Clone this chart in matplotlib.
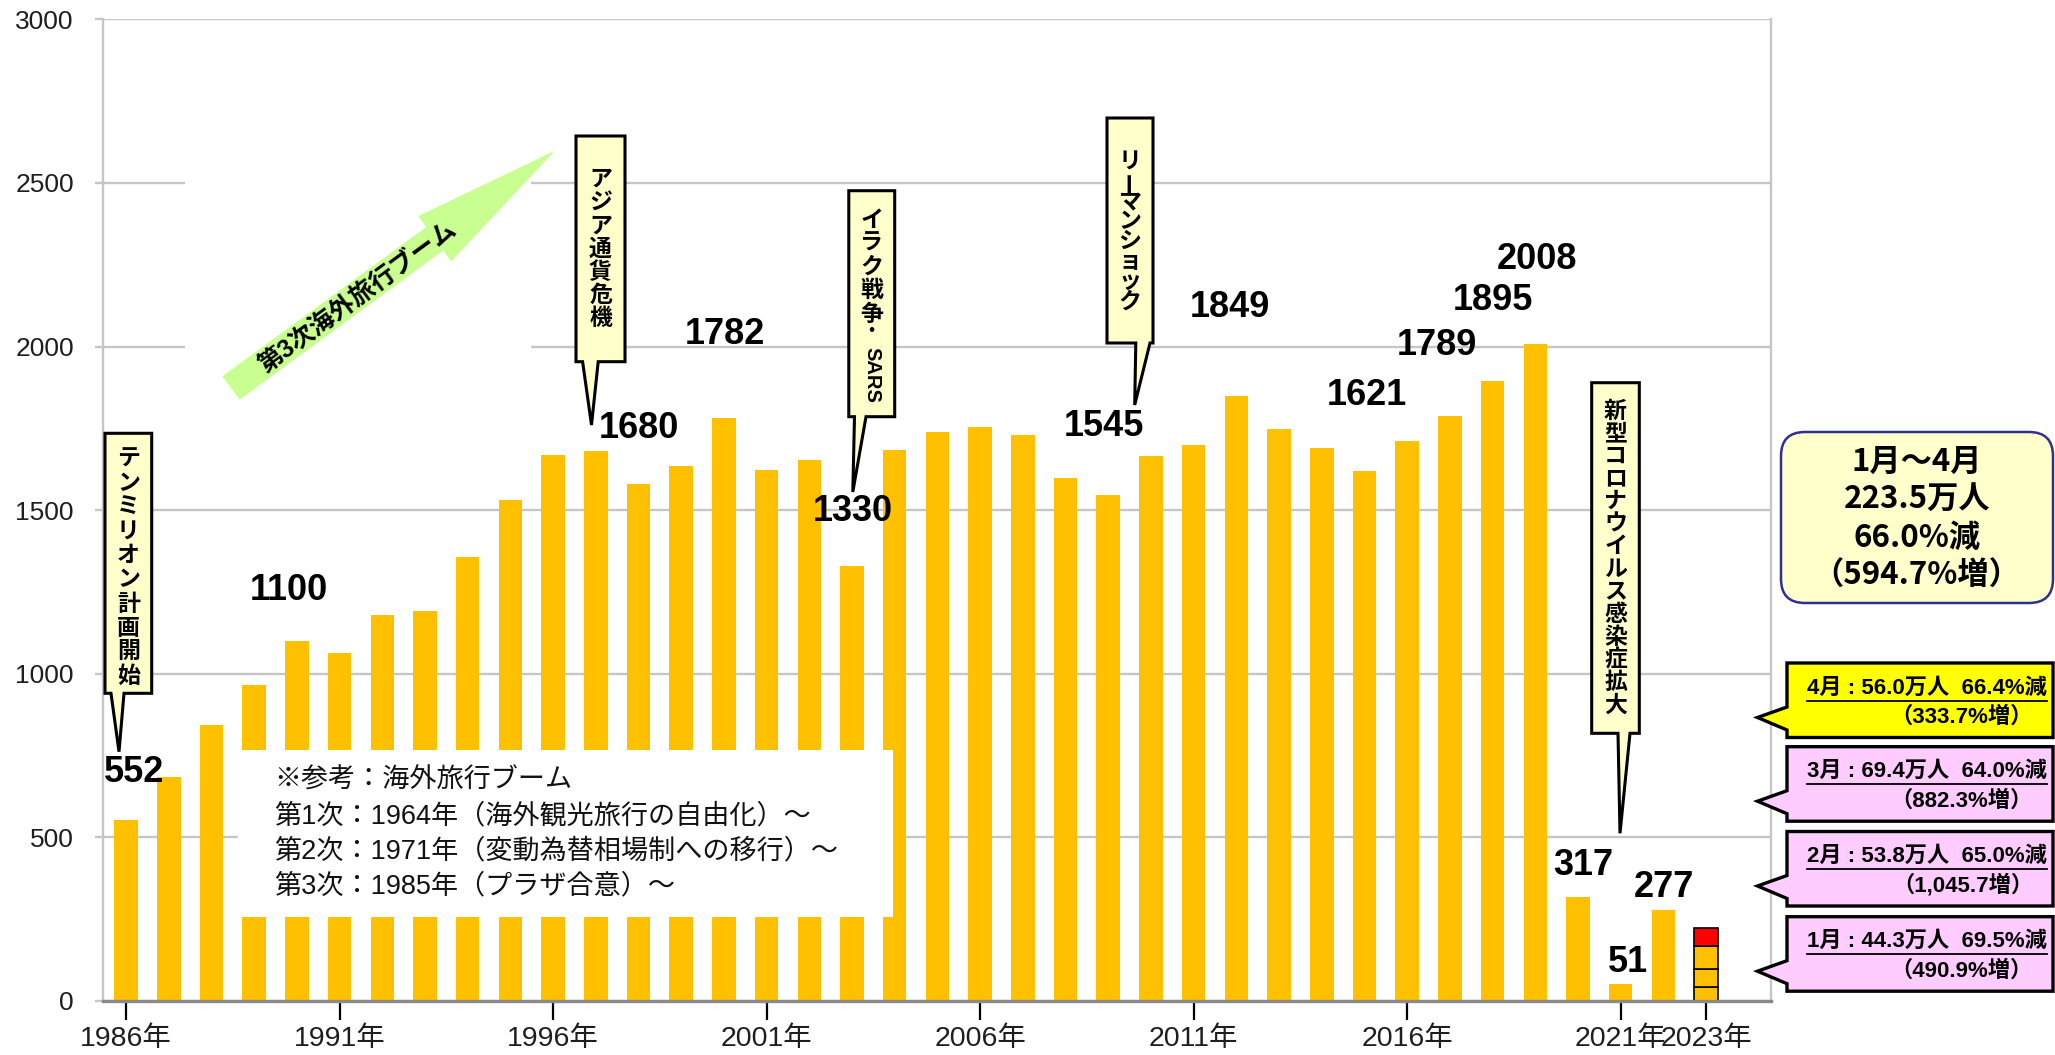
import matplotlib
matplotlib.use("Agg")
import matplotlib.pyplot as plt
from matplotlib.patches import Polygon, Rectangle, FancyBboxPatch
from matplotlib.lines import Line2D
from matplotlib.transforms import Affine2D
import numpy as np

plt.rcParams['font.family'] = ['Liberation Sans', 'Noto Sans CJK JP']

# ---- data (万人) ----
years = list(range(1986, 2023))
travelers = [552, 683, 843, 966, 1100, 1063, 1179, 1193, 1358, 1530,
             1669, 1680, 1581, 1636, 1782, 1622, 1652, 1330, 1683, 1740,
             1753, 1729, 1599, 1545, 1664, 1699, 1849, 1747, 1690, 1621,
             1712, 1789, 1895, 2008, 317, 51, 277]
months_2023 = [44.3, 53.8, 69.4, 56.0]          # 1月, 2月, 3月, 4月
tick_years = [1986, 1991, 1996, 2001, 2006, 2011, 2016, 2021, 2023]
labeled_years = [1986, 1990, 1997, 2000, 2003, 2009, 2012, 2015,
                 2017, 2018, 2019, 2020, 2021, 2022]

month_texts = [
    ("1月 : 44.3万人  69.5%減", "（490.9%増）"),
    ("2月 : 53.8万人  65.0%減", "（1,045.7増）"),
    ("3月 : 69.4万人  64.0%減", "（882.3%増）"),
    ("4月 : 56.0万人  66.4%減", "（333.7%増）"),
]
summary_lines = ["1月～4月", "223.5万人", "66.0%減", "（594.7%増）"]
note_lines = ["※参考：海外旅行ブーム",
              "第1次：1964年（海外観光旅行の自由化）～",
              "第2次：1971年（変動為替相場制への移行）～",
              "第3次：1985年（プラザ合意）～"]
events = ["テンミリオン計画開始", "アジア通貨危機", "イラク戦争・SARS",
          "リーマンショック", "新型コロナウイルス感染症拡大"]
boom_text = "第3次海外旅行ブーム"

# ---- layout / style ----
W, H = 2055, 1055
GOLD = '#FFC000'
month_colors = [GOLD, GOLD, GOLD, '#FF0000']
# value-label placement: (x, y) centre of each label in data units
label_pos = [(1986.18, 698), (1989.82, 1253), (1998.0, 1751), (2000.02, 2038),
             (2003.02, 1496), (2008.9, 1756), (2011.84, 2118), (2015.06, 1849),
             (2016.7, 2002), (2018.0, 2141), (2019.03, 2265), (2020.12, 414),
             (2021.18, 118), (2022.02, 347)]

fig = plt.figure(figsize=(W / 100, H / 100), dpi=100)
fig.patch.set_facecolor('white')
ax = fig.add_axes([103 / W, 1 - 1001 / H, (1771 - 103) / W, (1001 - 19.3) / H])
# pixel coordinates measured from the top-left corner of the figure
P = Affine2D().scale(1 / W, -1 / H).translate(0, 1) + fig.transFigure

ax.set_xlim(1985.46, 2024.52)
ax.set_ylim(0, 3000)

BW = 0.55
ax.bar(years, travelers, width=BW, color=GOLD, zorder=2)
bottom = 0.0
for v, c in zip(months_2023, month_colors):
    ax.bar(2023, v, bottom=bottom, width=BW, color=c, edgecolor='black',
           linewidth=1.2, zorder=2)
    bottom += v

ax.set_yticks(np.arange(0, 3001, 500))
ax.set_xticks(tick_years)
ax.set_xticklabels([f"{y}年" for y in tick_years])
ax.grid(axis='y', color='#c6c6c6', linewidth=1.7)
ax.set_axisbelow(True)
for s in ['left', 'right']:
    ax.spines[s].set_color('#c6c6c6')
    ax.spines[s].set_linewidth(1.7)
ax.spines['top'].set_visible(False)
ax.spines['bottom'].set_color('#8a8a8a')
ax.spines['bottom'].set_linewidth(2.4)
ax.spines['bottom'].set_zorder(3)
ax.tick_params(axis='y', length=6, width=1.7, color='#c6c6c6', pad=15,
               labelsize=19, labelcolor='#1e1e1e')
ax.tick_params(axis='x', length=14, width=1.6, color='black', pad=4,
               labelsize=20.5, labelcolor='#1e1e1e')

# value labels
val = dict(zip(years, travelers))
for yr, (lx, ly) in zip(labeled_years, label_pos):
    ax.text(lx, ly, f"{val[yr]}", ha='center', va='center', fontsize=26,
            fontweight='bold', color='black', zorder=5)

# white panel behind the boom arrow (hides the gridlines there)
ax.add_patch(Rectangle((185, 140), 346, 265, transform=P, facecolor='white',
                       edgecolor='none', zorder=1, clip_on=False))

# reference note box
ax.add_patch(Rectangle((1988.62, 257), 2003.97 - 1988.62, 768 - 257,
                       facecolor='white', edgecolor='none', zorder=3))
for i, line in enumerate(note_lines):
    ax.text(274, 781 + i * 35.2, line, transform=P, ha='left', va='center',
            fontsize=19.5, color='#111111', zorder=4)

# boom arrow (pixel space: tail centre -> tip)
T = np.array([231.0, 388.0])
tip = np.array([554.9, 150.7])
u = (tip - T) / np.linalg.norm(tip - T)
n = np.array([-u[1], u[0]])
if n[1] < 0:
    n = -n
w, Wd, Lh = 14.5, 28.0, 149.0
B = tip - Lh * u
arrow_pts = [T - w * n, B - w * n, B - Wd * n, tip, B + Wd * n, B + w * n, T + w * n]
ax.add_patch(Polygon(arrow_pts, closed=True, transform=P, facecolor='#c8ff90',
                     edgecolor='none', zorder=6, clip_on=False))
ang = np.degrees(np.arctan2(-(tip - T)[1], (tip - T)[0]))
c = T + 156 * u + 3 * n
ax.text(c[0], c[1], boom_text, transform=P, rotation=ang, rotation_mode='anchor',
        ha='center', va='center', fontsize=18, fontweight='bold', color='black',
        zorder=7)


def callout(L, R, Tp, Bt, b1, b2, tipxy):
    pts = [(L, Tp), (R, Tp), (R, Bt), (b2, Bt), tipxy, (b1, Bt), (L, Bt)]
    ax.add_patch(Polygon(pts, closed=True, transform=P, facecolor='#FFFFCC',
                         edgecolor='black', linewidth=2.2, joinstyle='miter',
                         zorder=6, clip_on=False))


def vtext(xc, y0, step, chars, size=16.5):
    y = y0
    for ch in chars:
        rot = 90 if ch == 'ー' else 0
        ax.text(xc, y, ch, transform=P, ha='center', va='center', rotation=rot,
                fontsize=size, fontweight='bold', color='black', zorder=7)
        y += step


# テンミリオン計画開始
callout(105, 151.7, 433.3, 693.3, 111, 124, (119, 751.7))
vtext(128.3, 459.5, 24.1, events[0])
# アジア通貨危機
callout(576, 625, 136, 361.7, 582.6, 598.2, (591.5, 425))
vtext(600.5, 179.5, 23.2, events[1])
# イラク戦争・SARS
callout(848.8, 894.7, 190.7, 416.7, 854.5, 866, (852.8, 492))
vtext(871.7, 220, 23.5, events[2][:5])
vtext(871.7, 333, 0, events[2][5], size=13)
ax.text(871.7, 375, events[2][6:], transform=P, ha='center', va='center',
        rotation=-90, fontsize=14.5, fontweight='bold', color='black', zorder=7)
# リーマンショック
callout(1107, 1153, 118, 343, 1135.8, 1150, (1134.7, 405))
vtext(1130, 161.7, 20.0, events[3])
# 新型コロナウイルス感染症拡大
callout(1591.7, 1639.3, 382.7, 733.3, 1618, 1630, (1620, 833.3))
vtext(1615.5, 411.3, 22.6, events[4])

# summary box (Jan-Apr 2023)
ax.add_patch(FancyBboxPatch((1781, 432), 272, 171, transform=P,
                            boxstyle='round,pad=0,rounding_size=24',
                            facecolor='#FFFFCC', edgecolor='#2E3192',
                            linewidth=1.8, zorder=6, clip_on=False))
for i, line in enumerate(summary_lines):
    ax.text(1916.7, 462 + i * 37.9, line, transform=P, ha='center', va='center',
            fontsize=22.5, fontweight='bold', family=['Noto Sans CJK JP'],
            color='black', zorder=7)

# monthly speech boxes, bottom (1月) to top (4月)
box_tops = [916.7, 831.5, 746.7, 663.0]
box_fill = ['#FFCCFF', '#FFCCFF', '#FFCCFF', '#FFFF00']
line1_artists = []
for (t1, t2), top, fc in zip(month_texts, box_tops, box_fill):
    Lb, Rb, Bb = 1787, 2053, top + 74.5
    pts = [(Lb, top), (Rb, top), (Rb, Bb), (Lb, Bb), (Lb, top + 67),
           (1757.5, top + 54.5), (Lb, top + 44)]
    ax.add_patch(Polygon(pts, closed=True, transform=P, facecolor=fc,
                         edgecolor='black', linewidth=2.4, joinstyle='miter',
                         zorder=6, clip_on=False))
    ta = ax.text(1807, top + 25, t1, transform=P, ha='left', va='center',
                 fontsize=16, fontweight='bold',
                 family=['Liberation Sans', 'Noto Sans CJK JP'],
                 color='black', zorder=7)
    ax.text(2033, top + 54, t2, transform=P, ha='right', va='center',
            fontsize=16, fontweight='bold',
            family=['Liberation Sans', 'Noto Sans CJK JP'],
            color='black', zorder=7)
    line1_artists.append((ta, top))

fig.canvas.draw()
r = fig.canvas.get_renderer()
for ta, top in line1_artists:
    bb = ta.get_window_extent(r)
    yl = top + 37.5
    ax.add_line(Line2D([bb.x0, bb.x1], [yl, yl], transform=P, color='black',
                       linewidth=1.3, zorder=7, clip_on=False))

fig.savefig('out.png', dpi=100, facecolor='white')
